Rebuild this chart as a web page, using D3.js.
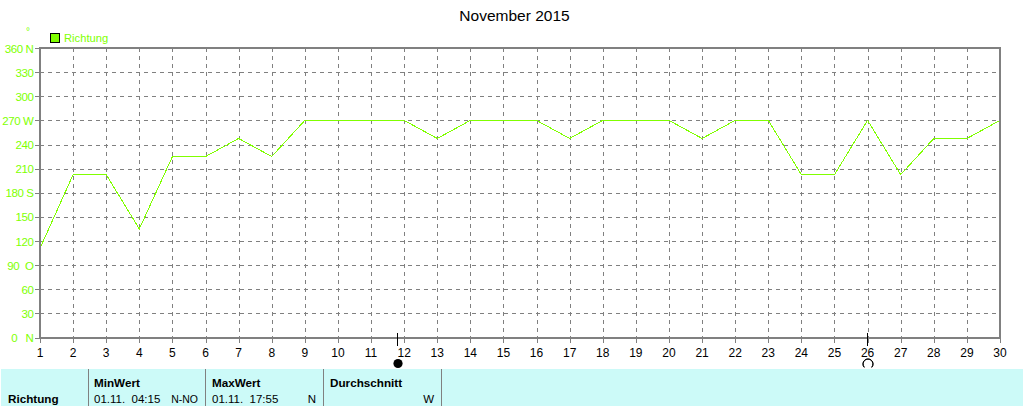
<!DOCTYPE html>
<html><head><meta charset="utf-8">
<script src="https://cdn.jsdelivr.net/npm/d3@7"></script>
<style>html,body{margin:0;padding:0;background:#fff}svg{display:block}text{font-family:"Liberation Sans",Arial,sans-serif}</style>
</head><body><svg id="c" width="1024" height="406"></svg>
<script>
const days=d3.range(1,31);
const richtung=[111,202.5,202.5,135,225,225,247.5,225,270,270,270,270,247.5,270,270,270,247.5,270,270,270,247.5,270,270,202.5,202.5,270,202.5,247.5,247.5,270];
const yTicks=[0,30,60,90,120,150,180,210,240,270,300,330,360];
const yLabels=["0   N","30","60","90  O","120","150","180 S","210","240","270 W","300","330","360 N"];
const moonDays=[11.8,26];
const tableSeps=[88.5,205.5,323.5,441.5];
const green="#80ff00",gray="#808080";
const svg=d3.select("#c");
const x=d3.scaleLinear().domain([1,30]).range([40,1000]);
const y=d3.scaleLinear().domain([0,360]).range([337.5,48]);

svg.append("text").attr("x",514.5).attr("y",21).attr("text-anchor","middle").attr("font-size",15.5).attr("fill","#000").text("November 2015");
svg.append("text").attr("x",28).attr("y",35).attr("text-anchor","middle").attr("font-size",10).attr("fill",green).text("°");
svg.append("rect").attr("x",50.5).attr("y",33.5).attr("width",9).attr("height",9).attr("fill",green).attr("stroke","#000").attr("shape-rendering","crispEdges");
svg.append("text").attr("x",64).attr("y",42).attr("font-size",11.2).attr("fill",green).text("Richtung");

// grid
svg.append("g").attr("shape-rendering","crispEdges").selectAll("line").data(days.slice(1,-1)).join("line")
 .attr("x1",d=>Math.round(x(d))+.5).attr("x2",d=>Math.round(x(d))+.5).attr("y1",48).attr("y2",338)
 .attr("stroke",gray).attr("stroke-dasharray","4 4");
svg.append("g").attr("shape-rendering","crispEdges").selectAll("line").data(yTicks.slice(1,-1)).join("line")
 .attr("x1",40).attr("x2",1000).attr("y1",d=>Math.round(y(d))+.5).attr("y2",d=>Math.round(y(d))+.5)
 .attr("stroke",gray).attr("stroke-dasharray","4 4");
// y ticks
const yg=svg.append("g");
yg.selectAll("line").data(yTicks).join("line").attr("x1",35).attr("x2",40).attr("shape-rendering","crispEdges")
 .attr("y1",d=>Math.round(y(d))+.5).attr("y2",d=>Math.round(y(d))+.5).attr("stroke",gray);
yg.selectAll("text").data(yTicks).join("text").attr("x",33.5).attr("y",d=>y(d)+4.5).attr("text-anchor","end")
 .attr("font-size",11.5).attr("letter-spacing",-0.4).attr("fill",green).attr("xml:space","preserve").style("white-space","pre")
 .text((d,i)=>yLabels[i]);
// x ticks
const xg=svg.append("g");
xg.selectAll("line").data(days).join("line").attr("x1",d=>Math.round(x(d))+.5).attr("x2",d=>Math.round(x(d))+.5).attr("shape-rendering","crispEdges")
 .attr("y1",338).attr("y2",343).attr("stroke",gray);
xg.selectAll("text").data(days).join("text").attr("x",d=>x(d)).attr("y",357).attr("text-anchor","middle")
 .attr("font-size",12).attr("fill","#000").text(d=>d);
// line
svg.append("path").datum(richtung).attr("fill","none").attr("stroke",green).attr("stroke-width",1).attr("shape-rendering","crispEdges")
 .attr("d",d3.line().x((d,i)=>x(days[i])).y(d=>y(d)));
// frame
svg.append("rect").attr("x",x(1)).attr("y",y(360)).attr("width",x(30)-x(1)).attr("height",y(0)-y(360)+.5)
 .attr("fill","none").attr("stroke",gray).attr("stroke-width",2).attr("shape-rendering","crispEdges");
// moon
svg.selectAll(".mt").data(moonDays).join("line").attr("class","mt").attr("shape-rendering","crispEdges")
 .attr("x1",d=>Math.round(x(d))-.5).attr("x2",d=>Math.round(x(d))-.5).attr("y1",333).attr("y2",346).attr("stroke","#000");
svg.append("circle").attr("cx",Math.round(x(moonDays[0]))).attr("cy",363.5).attr("r",4.6).attr("fill","#000");
svg.append("path").attr("fill","none").attr("stroke","#000")
 .attr("d",d3.arc()({innerRadius:5,outerRadius:5,startAngle:-2.3,endAngle:2.3}))
 .attr("transform",`translate(${Math.round(x(moonDays[1]))},364)`);
// table
svg.append("rect").attr("x",1).attr("y",369).attr("width",1022).attr("height",37).attr("fill","#ccfaf8");
svg.selectAll(".sep").data(tableSeps).join("line").attr("class","sep").attr("x1",d=>d).attr("x2",d=>d).attr("y1",369).attr("y2",406).attr("stroke",gray).attr("shape-rendering","crispEdges");
const cell=(t,xp,yp,bold,anchor)=>svg.append("text").attr("x",xp).attr("y",yp).attr("font-size",bold?11.7:11.5)
 .attr("font-weight",bold?"bold":"normal").attr("text-anchor",anchor||"start").attr("fill","#000").text(t);
cell("Richtung",8,403,true);
cell("MinWert",94,387,true);cell("MaxWert",212,387,true);cell("Durchschnitt",330,387,true);
cell("01.11.  04:15",94,403).attr("xml:space","preserve").style("white-space","pre");
cell("N-NO",198,403,false,"end").attr("font-size",10.5);
cell("01.11.  17:55",212,403).attr("xml:space","preserve").style("white-space","pre");
cell("N",316,403,false,"end");
cell("W",434,403,false,"end");
</script></body></html>
